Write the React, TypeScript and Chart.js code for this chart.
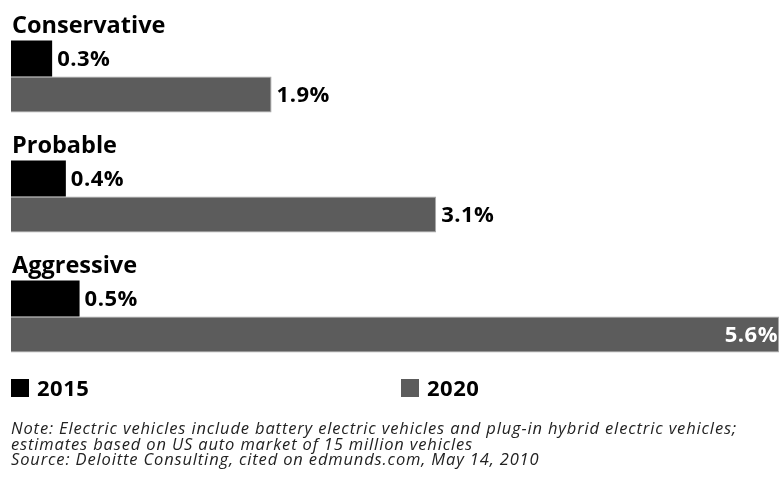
import React, { useEffect, useRef } from 'react';
import { Chart, registerables } from 'chart.js';

Chart.register(...registerables);

const categories = ['Conservative', 'Probable', 'Aggressive'];
const seriesNames = ['2015', '2020'];
const values2015 = [0.3, 0.4, 0.5];
const values2020 = [1.9, 3.1, 5.6];
const seriesColors = ['#000000', '#5c5c5c'];
const noteLines = [
  'Note: Electric vehicles include battery electric vehicles and plug-in hybrid electric vehicles;',
  'estimates based on US auto market of 15 million vehicles',
  'Source: Deloitte Consulting, cited on edmunds.com, May 14, 2010',
];

const FONT = '"Open Sans", "DejaVu Sans", sans-serif';

const overlayPlugin = {
  id: 'overlay',
  afterDatasetsDraw(chart: any) {
    const ctx = chart.ctx as any;
    const area = chart.chartArea;
    ctx.save();
    // group titles
    const meta0 = chart.getDatasetMeta(0);
    ctx.fillStyle = '#000';
    ctx.font = `bold 23.5px ${FONT}`;
    ctx.letterSpacing = '0px';
    ctx.textAlign = 'left';
    ctx.textBaseline = 'alphabetic';
    chart.data.labels.forEach((label: string, i: number) => {
      const bar = meta0.data[i] as any;
      const top = bar.y - bar.height / 2;
      ctx.fillText(label, area.left + 1, top - 8);
    });
    // value labels
    ctx.font = `bold 22px ${FONT}`;
    ctx.letterSpacing = '0.5px';
    ctx.textBaseline = 'middle';
    chart.data.datasets.forEach((ds: any, di: number) => {
      const meta = chart.getDatasetMeta(di);
      meta.data.forEach((bar: any, i: number) => {
        const text = ds.data[i].toFixed(1) + '%';
        const w = ctx.measureText(text).width;
        if (bar.x + 5 + w > area.right) {
          ctx.fillStyle = '#ffffff';
          ctx.textAlign = 'right';
          ctx.fillText(text, bar.x - 1, bar.y + 1);
        } else {
          ctx.fillStyle = '#000000';
          ctx.textAlign = 'left';
          ctx.fillText(text, bar.x + 5, bar.y + 1);
        }
      });
    });
    // legend
    ctx.font = `bold 22px ${FONT}`;
    ctx.letterSpacing = '0.5px';
    ctx.textAlign = 'left';
    ctx.textBaseline = 'alphabetic';
    chart.data.datasets.forEach((ds: any, di: number) => {
      const x = area.left + di * 390;
      ctx.fillStyle = ds.backgroundColor;
      ctx.fillRect(x, 379, 18, 18);
      ctx.fillStyle = '#000';
      ctx.fillText(ds.label, x + 26, 396);
    });
    // notes
    ctx.font = `italic 16.5px ${FONT}`;
    ctx.letterSpacing = '0.85px';
    ctx.fillStyle = '#222';
    noteLines.forEach((line, i) => {
      ctx.fillText(line, area.left, 434 + i * 15.5);
    });
    ctx.restore();
  },
};

export default function App() {
  const ref = useRef<HTMLCanvasElement | null>(null);
  useEffect(() => {
    if (!ref.current) return;
    const chart = new Chart(ref.current, {
      type: 'bar',
      data: {
        labels: categories,
        datasets: [
          {
            label: seriesNames[0],
            data: values2015,
            backgroundColor: seriesColors[0],
            borderWidth: 0,
            categoryPercentage: 0.6,
            barPercentage: 1.0,
          },
          {
            label: seriesNames[1],
            data: values2020,
            backgroundColor: seriesColors[1],
            borderColor: '#a9a9a9',
            borderWidth: 1,
            categoryPercentage: 0.6,
            barPercentage: 1.0,
          },
        ],
      },
      options: {
        indexAxis: 'y',
        animation: false,
        responsive: true,
        maintainAspectRatio: false,
        layout: { padding: { left: 11, right: 0, top: 16.5, bottom: 102.5 } },
        scales: {
          x: { display: false, min: 0, max: 5.6, grid: { display: false } },
          y: { display: false, grid: { display: false } },
        },
        plugins: {
          legend: { display: false },
          tooltip: { enabled: false },
        },
      },
      plugins: [overlayPlugin],
    } as any);
    return () => chart.destroy();
  }, []);
  return (
    <div style={{ position: 'absolute', left: 0, top: 0, width: 779, height: 479, background: '#fff' }}>
      <canvas ref={ref} />
    </div>
  );
}
